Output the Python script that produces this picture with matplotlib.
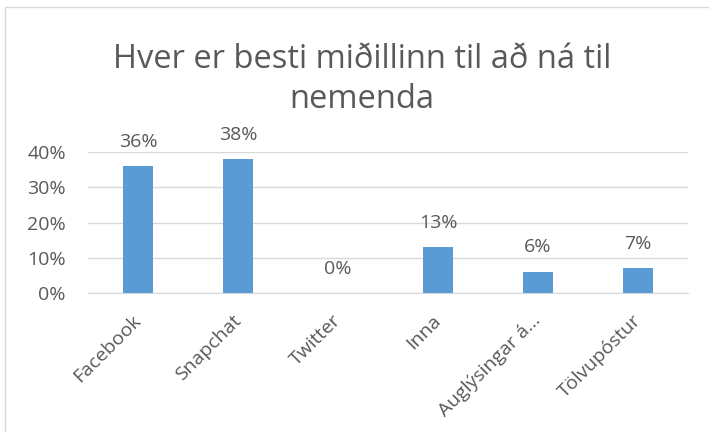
import matplotlib.pyplot as plt
from matplotlib.patches import Rectangle
from matplotlib.ticker import FuncFormatter

categories = ['Facebook', 'Snapchat', 'Twitter', 'Inna', 'Auglýsingar á...', 'Tölvupóstur']
values = [0.36, 0.38, 0.0, 0.13, 0.06, 0.07]
labels = ['36%', '38%', '0%', '13%', '6%', '7%']

plt.rcParams['font.family'] = ['Open Sans', 'DejaVu Sans']
text_color = '#595959'
bar_color = '#5B9BD5'

fig = plt.figure(figsize=(7.09, 4.32), dpi=100)
# light chart-area border (runs off the right and bottom edges like the original)
fig.patches.append(Rectangle((5 / 709, -0.05), 1.1, 1 - 7 / 432 + 0.05, transform=fig.transFigure,
                             fill=False, edgecolor='#D9D9D9', linewidth=1))
ax = fig.add_axes([88 / 709, 1 - 293 / 432, 600 / 709, 141 / 432])

x = list(range(len(categories)))
ax.bar(x, values, width=0.306, color=bar_color, zorder=3)
for xi, v, lab in zip(x, values, labels):
    ax.annotate(lab, (xi, v), xytext=(0, 14), textcoords='offset points',
                ha='center', va='baseline', fontsize=14, color=text_color)

ax.set_xlim(-0.5, len(categories) - 0.5)
ax.set_ylim(0, 0.4)
ax.set_yticks([0, 0.1, 0.2, 0.3, 0.4])
ax.yaxis.set_major_formatter(FuncFormatter(lambda v, p: '{:.0f}%'.format(v * 100)))
ax.grid(axis='y', color='#D9D9D9', linewidth=1, zorder=0)
for s in ['top', 'right', 'left']:
    ax.spines[s].set_visible(False)
ax.spines['bottom'].set_color('#D9D9D9')
ax.tick_params(axis='both', length=0, labelsize=14, labelcolor=text_color)
ax.tick_params(axis='y', pad=16)
ax.set_xticks(x)
ax.set_xticklabels(categories, rotation=45, ha='right', va='center', rotation_mode='anchor')
ax.tick_params(axis='x', pad=18)

title_x = 362 / 709
fig.text(title_x, 1 - 68 / 432, 'Hver er besti miðillinn til að ná til', ha='center', va='baseline',
         fontsize=23.5, color=text_color)
fig.text(title_x, 1 - 108 / 432, 'nemenda', ha='center', va='baseline', fontsize=23.5, color=text_color)

fig.savefig('out.png', dpi=100)
